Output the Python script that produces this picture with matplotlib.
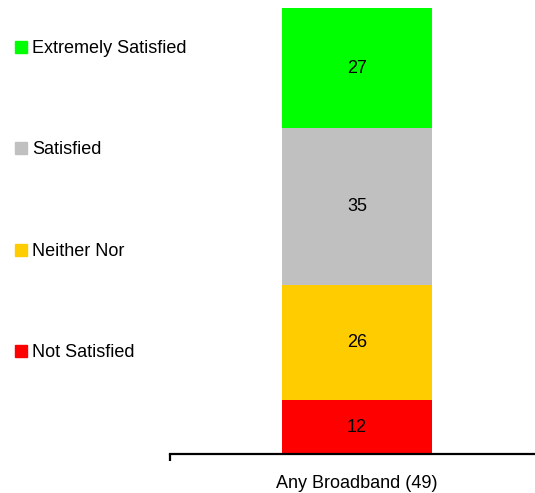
import matplotlib
matplotlib.use("Agg")
import matplotlib.pyplot as plt
from matplotlib.patches import Patch

plt.rcParams['font.family'] = ['Liberation Sans', 'DejaVu Sans']

categories = ["Any Broadband (49)"]
series_names = ["Not Satisfied", "Neither Nor", "Satisfied", "Extremely Satisfied"]
series_values = [[12], [26], [35], [27]]
series_colors = ["#FF0000", "#FFCC00", "#C0C0C0", "#00FF00"]

W, H = 535, 493
fig = plt.figure(figsize=(W / 100, H / 100), dpi=100)
ax = fig.add_axes([170 / W, 39 / H, 365 / W, 446 / H])

x = list(range(len(categories)))
bottom = [0] * len(categories)
for name, vals, col in zip(series_names, series_values, series_colors):
    bars = ax.bar(x, vals, bottom=bottom, width=150 / 365, color=col, label=name)
    for xi, v, b in zip(x, vals, bottom):
        ax.text(xi, b + v / 2, str(v), ha='center', va='center', fontsize=13, color='black')
    bottom = [b + v for b, v in zip(bottom, vals)]

ax.set_xlim(-187 / 365, 178 / 365)
ax.set_ylim(0, 100)
for s in ['top', 'right', 'left']:
    ax.spines[s].set_visible(False)
ax.spines['bottom'].set_linewidth(1.6)
ax.set_yticks([])
ax.set_xticks(x)
ax.set_xticklabels(categories, fontsize=13)
ax.tick_params(axis='x', which='major', length=0, pad=15)
ax.set_xticks([-187 / 365], minor=True)
ax.tick_params(axis='x', which='minor', length=5, width=1.6, direction='out')

handles = [Patch(color=c, label=n) for n, c in zip(series_names, series_colors)][::-1]
fig.legend(handles=handles, loc='upper left', bbox_to_anchor=(15 / W, 1 - 40 / H),
           frameon=False, fontsize=13, handlelength=0.66, handleheight=0.66,
           handletextpad=0.3, labelspacing=4.68, borderpad=0, borderaxespad=0)

fig.savefig("out.png", dpi=100)
